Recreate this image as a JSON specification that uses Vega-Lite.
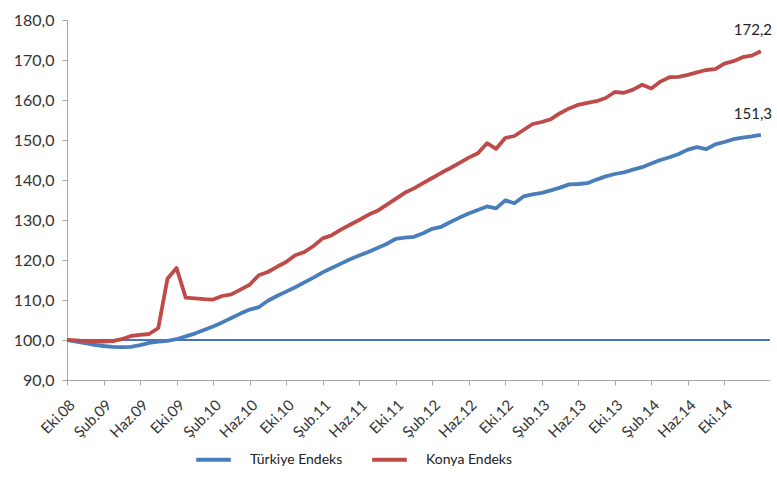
{
  "$schema": "https://vega.github.io/schema/vega-lite/v6.json",
  "autosize": {"type": "none"},
  "width": 703,
  "height": 360,
  "padding": {"left": 67, "top": 20, "right": 7, "bottom": 99},
  "background": "white",
  "config": {
    "view": {"stroke": null},
    "font": "Lato",
    "locale": {"number": {"decimal": ",", "thousands": ".", "grouping": [3], "currency": ["", " TL"]}}
  },
  "datasets": {
    "series": [
      {"i":0,"s":"Türkiye Endeks","v":100},{"i":1,"s":"Türkiye Endeks","v":99.6},{"i":2,"s":"Türkiye Endeks","v":99.2},{"i":3,"s":"Türkiye Endeks","v":98.8},{"i":4,"s":"Türkiye Endeks","v":98.5},{"i":5,"s":"Türkiye Endeks","v":98.3},{"i":6,"s":"Türkiye Endeks","v":98.2},{"i":7,"s":"Türkiye Endeks","v":98.3},{"i":8,"s":"Türkiye Endeks","v":98.7},{"i":9,"s":"Türkiye Endeks","v":99.3},
      {"i":10,"s":"Türkiye Endeks","v":99.6},{"i":11,"s":"Türkiye Endeks","v":99.8},{"i":12,"s":"Türkiye Endeks","v":100.2},{"i":13,"s":"Türkiye Endeks","v":100.9},{"i":14,"s":"Türkiye Endeks","v":101.6},{"i":15,"s":"Türkiye Endeks","v":102.5},{"i":16,"s":"Türkiye Endeks","v":103.4},{"i":17,"s":"Türkiye Endeks","v":104.4},{"i":18,"s":"Türkiye Endeks","v":105.5},{"i":19,"s":"Türkiye Endeks","v":106.6},
      {"i":20,"s":"Türkiye Endeks","v":107.6},{"i":21,"s":"Türkiye Endeks","v":108.2},{"i":22,"s":"Türkiye Endeks","v":109.8},{"i":23,"s":"Türkiye Endeks","v":111},{"i":24,"s":"Türkiye Endeks","v":112.1},{"i":25,"s":"Türkiye Endeks","v":113.2},{"i":26,"s":"Türkiye Endeks","v":114.4},{"i":27,"s":"Türkiye Endeks","v":115.6},{"i":28,"s":"Türkiye Endeks","v":116.9},{"i":29,"s":"Türkiye Endeks","v":118},
      {"i":30,"s":"Türkiye Endeks","v":119.1},{"i":31,"s":"Türkiye Endeks","v":120.2},{"i":32,"s":"Türkiye Endeks","v":121.1},{"i":33,"s":"Türkiye Endeks","v":122},{"i":34,"s":"Türkiye Endeks","v":123},{"i":35,"s":"Türkiye Endeks","v":124},{"i":36,"s":"Türkiye Endeks","v":125.3},{"i":37,"s":"Türkiye Endeks","v":125.6},{"i":38,"s":"Türkiye Endeks","v":125.8},{"i":39,"s":"Türkiye Endeks","v":126.7},
      {"i":40,"s":"Türkiye Endeks","v":127.8},{"i":41,"s":"Türkiye Endeks","v":128.3},{"i":42,"s":"Türkiye Endeks","v":129.5},{"i":43,"s":"Türkiye Endeks","v":130.6},{"i":44,"s":"Türkiye Endeks","v":131.6},{"i":45,"s":"Türkiye Endeks","v":132.5},{"i":46,"s":"Türkiye Endeks","v":133.4},{"i":47,"s":"Türkiye Endeks","v":132.9},{"i":48,"s":"Türkiye Endeks","v":134.9},{"i":49,"s":"Türkiye Endeks","v":134.2},
      {"i":50,"s":"Türkiye Endeks","v":135.9},{"i":51,"s":"Türkiye Endeks","v":136.4},{"i":52,"s":"Türkiye Endeks","v":136.8},{"i":53,"s":"Türkiye Endeks","v":137.4},{"i":54,"s":"Türkiye Endeks","v":138.1},{"i":55,"s":"Türkiye Endeks","v":138.9},{"i":56,"s":"Türkiye Endeks","v":139},{"i":57,"s":"Türkiye Endeks","v":139.2},{"i":58,"s":"Türkiye Endeks","v":140.1},{"i":59,"s":"Türkiye Endeks","v":140.9},
      {"i":60,"s":"Türkiye Endeks","v":141.5},{"i":61,"s":"Türkiye Endeks","v":141.9},{"i":62,"s":"Türkiye Endeks","v":142.6},{"i":63,"s":"Türkiye Endeks","v":143.2},{"i":64,"s":"Türkiye Endeks","v":144.1},{"i":65,"s":"Türkiye Endeks","v":145},{"i":66,"s":"Türkiye Endeks","v":145.7},{"i":67,"s":"Türkiye Endeks","v":146.5},{"i":68,"s":"Türkiye Endeks","v":147.6},{"i":69,"s":"Türkiye Endeks","v":148.2},
      {"i":70,"s":"Türkiye Endeks","v":147.7},{"i":71,"s":"Türkiye Endeks","v":148.9},{"i":72,"s":"Türkiye Endeks","v":149.5},{"i":73,"s":"Türkiye Endeks","v":150.2},{"i":74,"s":"Türkiye Endeks","v":150.6},{"i":75,"s":"Türkiye Endeks","v":150.9},{"i":76,"s":"Türkiye Endeks","v":151.3},
      {"i":0,"s":"Konya Endeks","v":100},{"i":1,"s":"Konya Endeks","v":99.9},{"i":2,"s":"Konya Endeks","v":99.7},{"i":3,"s":"Konya Endeks","v":99.6},{"i":4,"s":"Konya Endeks","v":99.6},{"i":5,"s":"Konya Endeks","v":99.7},{"i":6,"s":"Konya Endeks","v":100.2},{"i":7,"s":"Konya Endeks","v":101},{"i":8,"s":"Konya Endeks","v":101.3},{"i":9,"s":"Konya Endeks","v":101.5},
      {"i":10,"s":"Konya Endeks","v":103},{"i":11,"s":"Konya Endeks","v":115.3},{"i":12,"s":"Konya Endeks","v":118},{"i":13,"s":"Konya Endeks","v":110.6},{"i":14,"s":"Konya Endeks","v":110.4},{"i":15,"s":"Konya Endeks","v":110.2},{"i":16,"s":"Konya Endeks","v":110.1},{"i":17,"s":"Konya Endeks","v":111},{"i":18,"s":"Konya Endeks","v":111.4},{"i":19,"s":"Konya Endeks","v":112.6},
      {"i":20,"s":"Konya Endeks","v":113.8},{"i":21,"s":"Konya Endeks","v":116.2},{"i":22,"s":"Konya Endeks","v":117},{"i":23,"s":"Konya Endeks","v":118.3},{"i":24,"s":"Konya Endeks","v":119.5},{"i":25,"s":"Konya Endeks","v":121.2},{"i":26,"s":"Konya Endeks","v":122},{"i":27,"s":"Konya Endeks","v":123.5},{"i":28,"s":"Konya Endeks","v":125.4},{"i":29,"s":"Konya Endeks","v":126.2},
      {"i":30,"s":"Konya Endeks","v":127.6},{"i":31,"s":"Konya Endeks","v":128.8},{"i":32,"s":"Konya Endeks","v":130},{"i":33,"s":"Konya Endeks","v":131.3},{"i":34,"s":"Konya Endeks","v":132.3},{"i":35,"s":"Konya Endeks","v":133.8},{"i":36,"s":"Konya Endeks","v":135.3},{"i":37,"s":"Konya Endeks","v":136.8},{"i":38,"s":"Konya Endeks","v":137.9},{"i":39,"s":"Konya Endeks","v":139.2},
      {"i":40,"s":"Konya Endeks","v":140.5},{"i":41,"s":"Konya Endeks","v":141.8},{"i":42,"s":"Konya Endeks","v":143},{"i":43,"s":"Konya Endeks","v":144.3},{"i":44,"s":"Konya Endeks","v":145.6},{"i":45,"s":"Konya Endeks","v":146.7},{"i":46,"s":"Konya Endeks","v":149.2},{"i":47,"s":"Konya Endeks","v":147.8},{"i":48,"s":"Konya Endeks","v":150.5},{"i":49,"s":"Konya Endeks","v":151},
      {"i":50,"s":"Konya Endeks","v":152.5},{"i":51,"s":"Konya Endeks","v":154},{"i":52,"s":"Konya Endeks","v":154.5},{"i":53,"s":"Konya Endeks","v":155.2},{"i":54,"s":"Konya Endeks","v":156.7},{"i":55,"s":"Konya Endeks","v":157.9},{"i":56,"s":"Konya Endeks","v":158.8},{"i":57,"s":"Konya Endeks","v":159.3},{"i":58,"s":"Konya Endeks","v":159.7},{"i":59,"s":"Konya Endeks","v":160.5},
      {"i":60,"s":"Konya Endeks","v":162},{"i":61,"s":"Konya Endeks","v":161.8},{"i":62,"s":"Konya Endeks","v":162.6},{"i":63,"s":"Konya Endeks","v":163.8},{"i":64,"s":"Konya Endeks","v":162.9},{"i":65,"s":"Konya Endeks","v":164.6},{"i":66,"s":"Konya Endeks","v":165.7},{"i":67,"s":"Konya Endeks","v":165.8},{"i":68,"s":"Konya Endeks","v":166.3},{"i":69,"s":"Konya Endeks","v":166.9},
      {"i":70,"s":"Konya Endeks","v":167.5},{"i":71,"s":"Konya Endeks","v":167.7},{"i":72,"s":"Konya Endeks","v":169.1},{"i":73,"s":"Konya Endeks","v":169.7},{"i":74,"s":"Konya Endeks","v":170.7},{"i":75,"s":"Konya Endeks","v":171.1},{"i":76,"s":"Konya Endeks","v":172.2}
    ]
  },
  "data": {"name": "series"},
  "encoding": {
    "x": {
      "field": "i", "type": "quantitative",
      "scale": {"domain": [0, 77], "nice": false, "zero": false},
      "axis": {
        "title": null, "grid": false,
        "values": [0,4,8,12,16,20,24,28,32,36,40,44,48,52,56,60,64,68,72],
        "labelExpr": "['Eki','Şub','Haz'][(datum.value/4)%3] + '.' + pad(toString(8 + floor((9 + datum.value)/12)), 2, '0', 'left')",
        "labelAngle": -45, "labelAlign": "right", "labelBaseline": "top",
        "labelFontSize": 15, "labelColor": "#333333", "labelPadding": 12, "labelDx": 4,
        "labelOverlap": false, "labelFlush": false,
        "domainColor": "#a6a6a6", "tickColor": "#a6a6a6", "tickSize": 5
      }
    },
    "y": {
      "field": "v", "type": "quantitative",
      "scale": {"domain": [90, 180], "nice": false, "zero": false},
      "axis": {
        "title": null, "grid": false,
        "values": [90,100,110,120,130,140,150,160,170,180],
        "format": ".1f",
        "labelFontSize": 16, "labelColor": "#333333", "labelPadding": 8,
        "domainColor": "#a6a6a6", "tickColor": "#a6a6a6", "tickSize": 5
      }
    },
    "color": {
      "field": "s", "type": "nominal",
      "scale": {"domain": ["Türkiye Endeks", "Konya Endeks"], "range": ["#4a7ebb", "#be4b48"]},
      "legend": {
        "title": null, "orient": "none", "direction": "horizontal",
        "legendX": 127, "legendY": 420,
        "symbolType": "stroke", "symbolSize": 1200, "symbolStrokeWidth": 4,
        "labelFontSize": 14, "labelColor": "#222222", "labelOffset": 17,
        "columnPadding": 21
      }
    }
  },
  "layer": [
    {
      "mark": {"type": "rule", "color": "#4472c4", "strokeWidth": 1.2},
      "encoding": {"y": {"datum": 100}, "x": null, "color": null}
    },
    {
      "mark": {"type": "line", "strokeWidth": 3.8, "strokeJoin": "round"}
    },
    {
      "transform": [{"filter": "datum.i == 76"}],
      "mark": {"type": "text", "align": "left", "baseline": "middle", "dx": -27, "dy": -21, "fontSize": 15, "color": "#222222"},
      "encoding": {"text": {"field": "v", "type": "quantitative", "format": ".1f"}, "color": null}
    }
  ]
}
